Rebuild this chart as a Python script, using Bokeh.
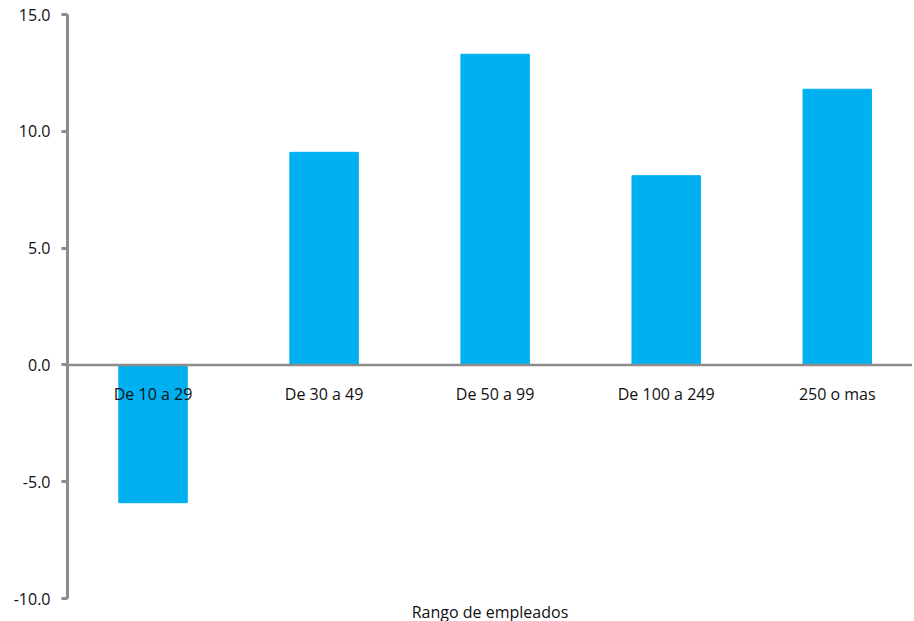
from bokeh.plotting import figure
from bokeh.models import Range1d, FixedTicker, Span, Title, ColumnDataSource, CustomJSTickFormatter
from bokeh.core.properties import value
from bokeh.embed import file_html
from bokeh.resources import INLINE

categories = ["De 10 a 29", "De 30 a 49", "De 50 a 99", "De 100 a 249", "250 o mas"]
values = [-5.9, 9.1, 13.3, 8.1, 11.8]
y_ticks = [-10, -5, 0, 5, 10, 15]
x_title = "Rango de empleados"

FONT = "Open Sans"
GRAY = "#8c8c8c"
TXT = "#111111"

xs = list(range(1, len(categories) + 1))
src = ColumnDataSource(dict(x=xs, top=values, label=categories, zero=[0] * len(xs)))

p = figure(width=912, height=620, frame_width=845, frame_height=584,
           output_backend="svg", toolbar_location=None,
           x_range=Range1d(0.5, 5.44), y_range=Range1d(-10, 15),
           x_axis_location=None, min_border_left=67, min_border_top=14,
           min_border_right=0, min_border_bottom=0)
p.outline_line_color = None
p.xgrid.visible = False
p.ygrid.visible = False

p.vbar(x="x", top="top", bottom=0, width=0.4, source=src, color="#00B0F0")

p.add_layout(Span(location=0, dimension="width", line_color=GRAY, line_width=2.5))

p.text(x="x", y="zero", text="label", source=src, text_align="center",
       text_baseline="middle", y_offset=29, text_font=value(FONT),
       text_font_size="16px", text_color=TXT)

ya = p.yaxis[0]
ya.ticker = FixedTicker(ticks=y_ticks)
ya.formatter = CustomJSTickFormatter(code="return tick.toFixed(1);")
ya.axis_line_color = GRAY
ya.axis_line_width = 3
ya.major_tick_line_color = GRAY
ya.major_tick_line_width = 3
ya.major_tick_out = 6
ya.major_tick_in = 0
ya.minor_tick_line_color = None
ya.major_label_standoff = 11
ya.major_label_text_font = FONT
ya.major_label_text_font_size = "16px"
ya.major_label_text_color = TXT

t = Title(text=x_title, align="center", text_font=FONT, text_font_size="16px",
          text_font_style="normal", text_color=TXT, standoff=0, offset=6)
p.add_layout(t, "below")

open("out.html", "w").write(file_html(p, INLINE))
